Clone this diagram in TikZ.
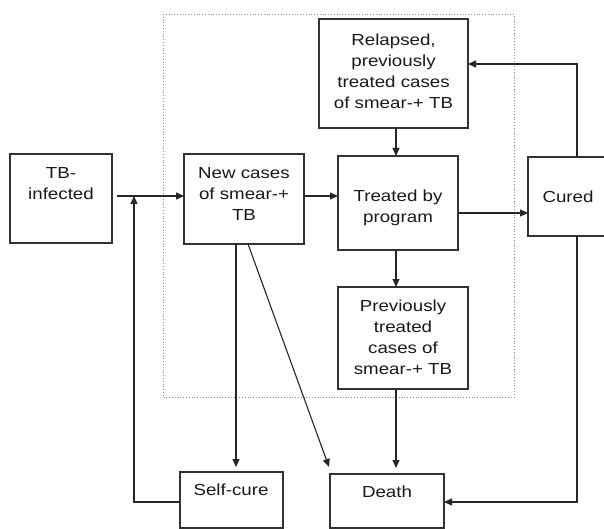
\documentclass[tikz,border=0pt]{standalone}
\usepackage{fontspec}
\setmainfont[FakeStretch=1.17]{Liberation Sans}
\usetikzlibrary{arrows.meta}
\begin{document}
\begin{tikzpicture}[x=1pt,y=-1pt,
  box/.style={draw=black!80, line width=1.3pt, rectangle, inner sep=0pt, outer sep=0pt},
  txt/.style={align=center, font=\fontsize{16}{21}\selectfont, inner sep=0pt, text=black!90},
  arr/.style={draw=black!85, line width=1.1pt, -{Triangle[length=8pt,width=7pt]}},
  frame/.style={draw=black!45, dotted, line width=0.8pt}]
\clip (0,0) rectangle (604,529);
\fill[white] (0,0) rectangle (604,529);
\draw[frame] (163,14) rectangle (514,397);
% boxes
\node[box, minimum width=102pt, minimum height=89pt] (tb) at (61,198.5) {};
\node[box, minimum width=120pt, minimum height=90pt] (new) at (244,199) {};
\node[box, minimum width=120pt, minimum height=94pt] (treated) at (398,203) {};
\node[box, minimum width=149pt, minimum height=109pt] (relapsed) at (393.5,73.5) {};
\node[box, minimum width=92pt, minimum height=79pt] (cured) at (574,196.5) {};
\node[box, minimum width=130pt, minimum height=102pt] (prev) at (403,338) {};
\node[box, minimum width=103pt, minimum height=56pt] (sc) at (231.5,500) {};
\node[box, minimum width=114pt, minimum height=54pt] (death) at (387,501) {};
% texts
\node[txt] (tbt) at (61,184) {TB-\\infected};
\node[txt] (newt) at (244,193.5) {New cases\\of smear-+\\TB};
\node[txt] (trt) at (398,207.5) {Treated by\\program};
\node[txt] (relt) at (393.5,71) {Relapsed,\\previously\\treated cases\\of smear-+ TB};
\node[txt] (curt) at (568,197) {Cured};
\node[txt] (prevt) at (403,337.5) {Previously\\treated\\cases of\\smear-+ TB};
\node[txt] (sct) at (231,490) {Self-cure};
\node[txt] (dt) at (387,492) {Death};
% helper coordinates
\coordinate (j) at (134,196);
\coordinate (l1) at (134,502);
\coordinate (cx) at (396,0);
\coordinate (ty) at (0,213);
\coordinate (cr) at (577,64);
\coordinate (cd) at (577,502);
\coordinate (nx) at (236,0);
% connectors
\draw[arr, shorten <=5pt] (tb.east |- j) -- (new.west |- j);
\draw[arr] (sc.west |- l1) -- (l1) -- (j);
\draw[arr] (new.east |- j) -- (treated.west |- j);
\draw[arr] (relapsed.south -| cx) -- (treated.north -| cx);
\draw[arr] (treated.east |- ty) -- (cured.west |- ty);
\draw[arr] (cured.north -| cr) -- (cr) -- (relapsed.east |- cr);
\draw[arr] (treated.south -| cx) -- (prev.north -| cx);
\draw[arr, shorten >=6pt] (prev.south -| cx) -- (death.north -| cx);
\draw[arr, shorten >=5pt] (new.south -| nx) -- (sc.north -| nx);
\draw[arr] ([xshift=4pt]new.south) -- ([shift={(-1,-7)}]death.north west);
\draw[arr] (cured.south -| cd) -- (cd) -- (death.east |- cd);
\end{tikzpicture}
\end{document}
